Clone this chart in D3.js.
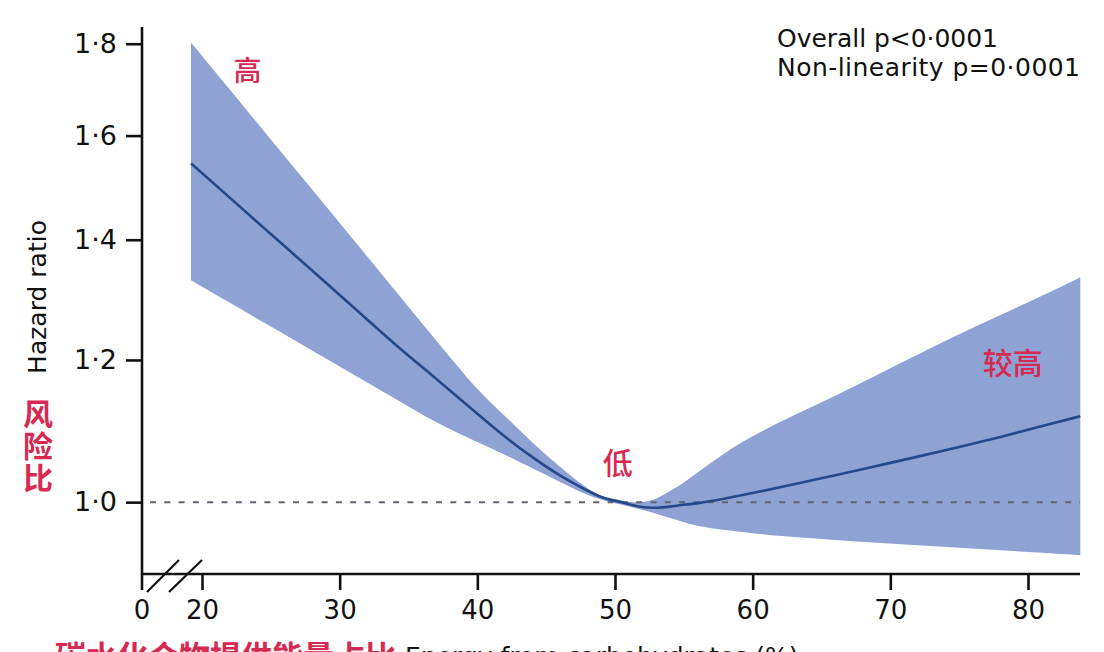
<!DOCTYPE html>
<html>
<head>
<meta charset="utf-8">
<script src="https://cdn.jsdelivr.net/npm/d3@7"></script>
<style>
  html, body { margin: 0; padding: 0; background: #ffffff; }
  svg { display: block; }
</style>
</head>
<body>
<svg id="chart" width="1104" height="652"></svg>
<script>
// ---- data ----
const carbs = [19.2, 22, 25, 28, 31, 34, 37, 40, 42, 44, 46, 48, 49, 50, 51, 52, 53, 54, 55, 56, 58, 60, 63, 66, 69, 72, 75, 78, 81, 83.8];
const hazardRatio = [1.544, 1.478, 1.410, 1.346, 1.284, 1.224, 1.172, 1.120, 1.087, 1.059, 1.034, 1.0146, 1.006, 1.002, 0.9978, 0.993, 0.9926, 0.9941, 0.9968, 0.9983, 1.0046, 1.0117, 1.023, 1.035, 1.0475, 1.060, 1.0733, 1.0869, 1.1023, 1.1165];
const upperCI = [1.803, 1.698, 1.592, 1.493, 1.400, 1.3126, 1.2307, 1.154, 1.117, 1.079, 1.046, 1.0172, 1.0077, 1.0023, 1.0001, 0.9991, 1.0036, 1.0143, 1.0249, 1.0388, 1.0659, 1.0888, 1.1182, 1.1457, 1.1767, 1.2085, 1.2404, 1.2711, 1.3026, 1.3342];
const lowerCI = [1.329, 1.2916, 1.2525, 1.2146, 1.178, 1.1423, 1.107, 1.080, 1.0628, 1.0443, 1.0262, 1.0087, 1.0035, 0.9983, 0.9948, 0.9901, 0.9854, 0.9797, 0.9747, 0.9695, 0.9647, 0.9607, 0.9563, 0.9527, 0.9493, 0.9464, 0.9434, 0.9402, 0.9372, 0.9343];

const xTicks = [20, 30, 40, 50, 60, 70, 80];
const xOriginLabel = "0";
const yTicks = [1.0, 1.2, 1.4, 1.6, 1.8];
const yTickLabels = ["1·0", "1·2", "1·4", "1·6", "1·8"];
const pValueLines = ["Overall p<0·0001", "Non-linearity p=0·0001"];
const yTitle = "Hazard ratio";
const yTitleCN = "风险比";
const xTitleCN = "碳水化合物提供能量占比";
const xTitleEN = "Energy from carbohydrates (%)";
const annotations = [
  { text: "高", x: 23.3, y: 1.742 },
  { text: "低", x: 50.2, y: 1.054 },
  { text: "较高", x: 78.9, y: 1.198 }
];

// ---- layout ----
const svg = d3.select("#chart");
const axisLeftX = 142, axisBottomY = 574, axisTopY = 27, axisRightX = 1080;
const red = "#d62a52";
const latin = "'DejaVu Sans', 'Noto Sans', sans-serif";
const cjk = "'Noto Sans CJK SC', 'Noto Sans', sans-serif";

const x = d3.scaleLinear().domain([20, 80]).range([202, 1028]);
const y = d3.scaleLog().domain([0.912, 1.839]).range([axisBottomY, axisTopY]);

const rows = carbs.map((c, i) => ({ c, hr: hazardRatio[i], lo: lowerCI[i], hi: upperCI[i] }));

// band
svg.append("path")
  .datum(rows)
  .attr("fill", "#8fa2d4")
  .attr("d", d3.area()
    .x(d => x(d.c))
    .y0(d => y(d.lo))
    .y1(d => y(d.hi))
    .curve(d3.curveBasis));

// reference line at HR = 1
svg.append("line")
  .attr("x1", axisLeftX + 8).attr("x2", axisRightX)
  .attr("y1", y(1)).attr("y2", y(1))
  .attr("stroke", "#5f6470")
  .attr("stroke-width", 2)
  .attr("stroke-dasharray", "6,8.3");

// estimate line
svg.append("path")
  .datum(rows)
  .attr("fill", "none")
  .attr("stroke", "#25488a")
  .attr("stroke-width", 2.6)
  .attr("d", d3.line()
    .x(d => x(d.c))
    .y(d => y(d.hr))
    .curve(d3.curveBasis));

// y axis
const yAxis = d3.axisLeft(y)
  .tickValues(yTicks)
  .tickFormat((d, i) => yTickLabels[i])
  .tickSize(16)
  .tickPadding(9);
const gy = svg.append("g").attr("transform", `translate(${axisLeftX},0)`).call(yAxis);
gy.select(".domain").remove();
gy.selectAll(".tick line").attr("stroke", "#111").attr("stroke-width", 2.6);
gy.selectAll(".tick text")
  .attr("fill", "#111")
  .style("font-family", latin)
  .style("font-size", "27px");

svg.append("line")
  .attr("x1", axisLeftX).attr("x2", axisLeftX)
  .attr("y1", axisTopY).attr("y2", 590)
  .attr("stroke", "#111").attr("stroke-width", 2.6);

// x axis
const xAxis = d3.axisBottom(x)
  .tickValues(xTicks)
  .tickFormat(d3.format("d"))
  .tickSize(16)
  .tickPadding(9);
const gx = svg.append("g").attr("transform", `translate(0,${axisBottomY})`).call(xAxis);
gx.select(".domain").remove();
gx.selectAll(".tick line").attr("stroke", "#111").attr("stroke-width", 2.6);
gx.selectAll(".tick text")
  .attr("fill", "#111")
  .attr("y", 27)
  .style("font-family", latin)
  .style("font-size", "26px");

svg.append("line")
  .attr("x1", axisLeftX).attr("x2", axisRightX)
  .attr("y1", axisBottomY).attr("y2", axisBottomY)
  .attr("stroke", "#111").attr("stroke-width", 2.6);

svg.append("text")
  .attr("x", axisLeftX).attr("y", axisBottomY + 27)
  .attr("dy", "0.71em")
  .attr("text-anchor", "middle")
  .attr("fill", "#111")
  .style("font-family", latin)
  .style("font-size", "26px")
  .text(xOriginLabel);

// axis break marks
[[147, 179], [169, 202]].forEach(([a, b]) => {
  svg.append("line")
    .attr("x1", a).attr("y1", 592).attr("x2", b).attr("y2", 560)
    .attr("stroke", "#111").attr("stroke-width", 2.2);
});

// p-values
const pLengths = [221, 303];
svg.append("g").selectAll("text")
  .data(pValueLines)
  .join("text")
  .attr("x", 777)
  .attr("y", (d, i) => 47 + i * 29)
  .attr("textLength", (d, i) => pLengths[i])
  .attr("lengthAdjust", "spacing")
  .attr("fill", "#111")
  .style("font-family", latin)
  .style("font-size", "25px")
  .text(d => d);

// y titles
svg.append("text")
  .attr("transform", "translate(46,297) rotate(-90)")
  .attr("text-anchor", "middle")
  .attr("fill", "#111")
  .style("font-family", latin)
  .style("font-size", "25px")
  .text(yTitle);

svg.append("text")
  .attr("x", 38)
  .attr("y", 399)
  .attr("fill", red)
  .style("writing-mode", "vertical-rl")
  .style("text-orientation", "upright")
  .style("letter-spacing", "2px")
  .style("font-family", cjk)
  .style("font-weight", "700")
  .style("font-size", "30px")
  .text(yTitleCN);

// red annotations
svg.append("g").selectAll("text")
  .data(annotations)
  .join("text")
  .attr("x", d => x(d.x))
  .attr("y", d => y(d.y))
  .attr("text-anchor", "middle")
  .attr("dominant-baseline", "central")
  .attr("fill", red)
  .style("font-family", cjk)
  .style("font-weight", "500")
  .style("font-size", d => d.text === "高" ? "28px" : "30px")
  .text(d => d.text);

// x title (cut off at the bottom edge, as in the reference)
svg.append("text")
  .attr("x", 55).attr("y", 668)
  .attr("fill", red)
  .style("font-family", cjk)
  .style("font-weight", "700")
  .style("font-size", "31px")
  .text(xTitleCN);
svg.append("text")
  .attr("x", 405).attr("y", 665)
  .attr("fill", "#111")
  .style("font-family", latin)
  .style("font-size", "25px")
  .text(xTitleEN);
</script>
</body>
</html>
